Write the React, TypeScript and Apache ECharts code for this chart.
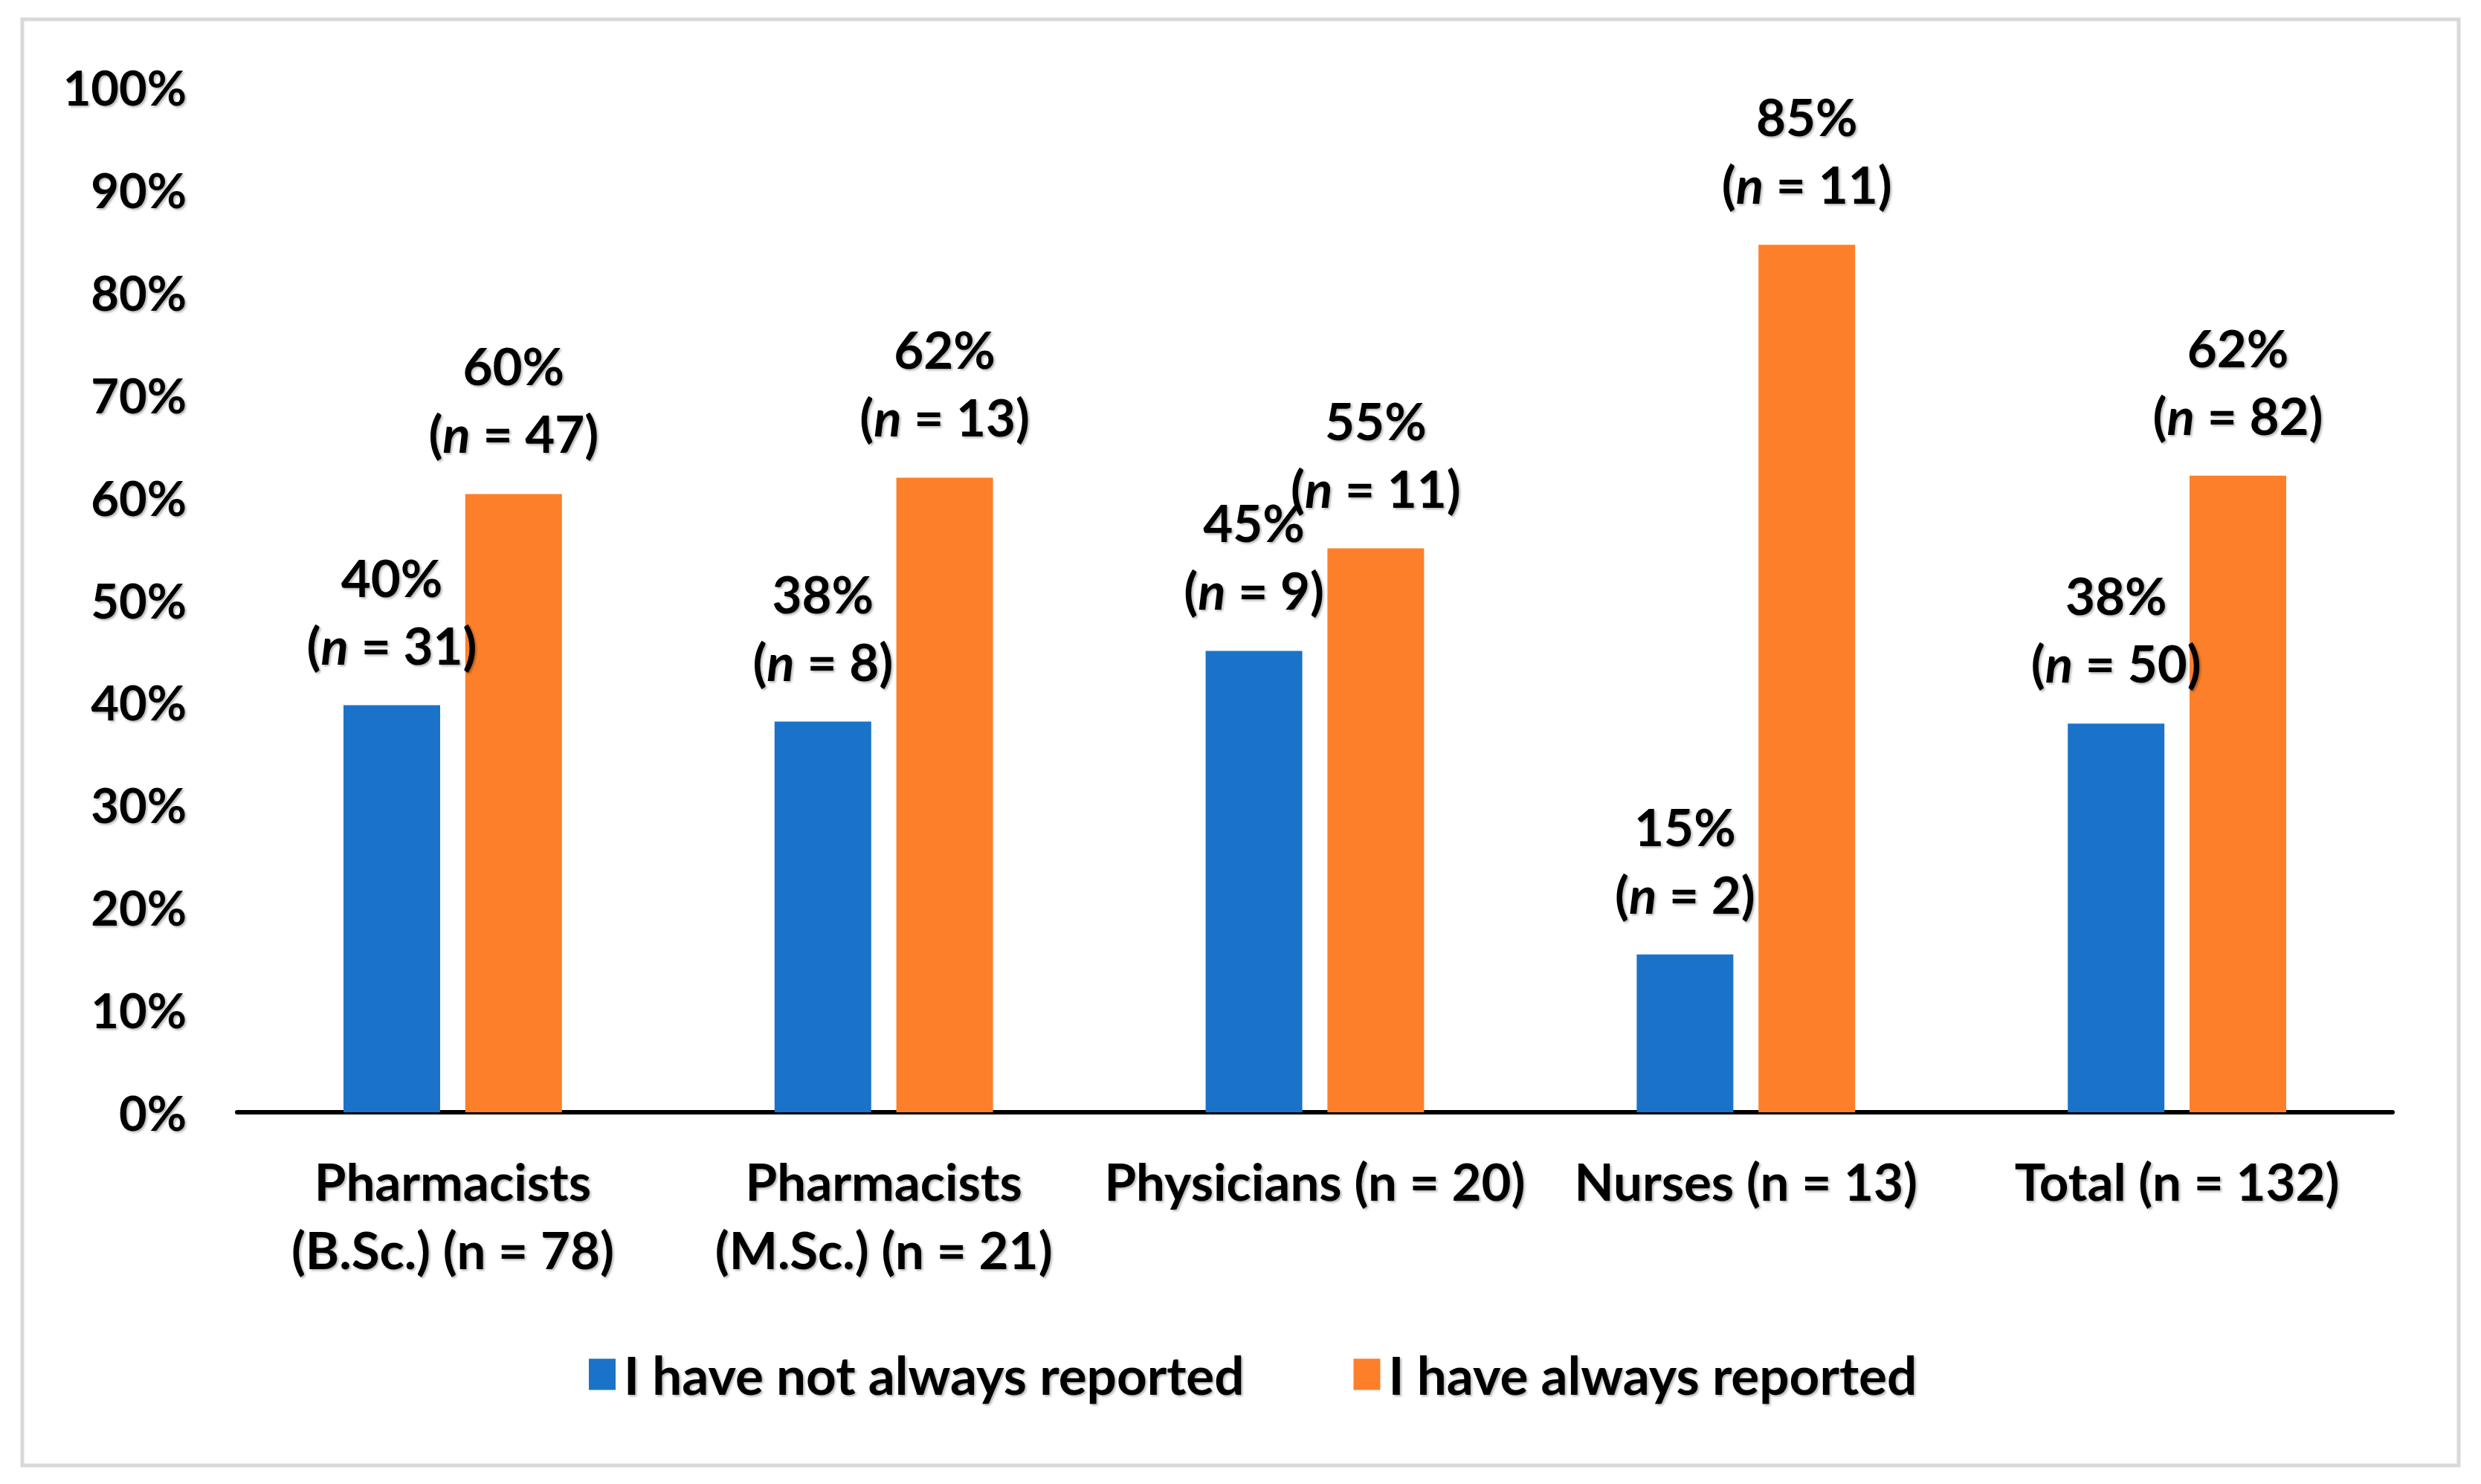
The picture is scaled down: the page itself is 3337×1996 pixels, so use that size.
import React, { useEffect, useRef } from "react";
import * as echarts from "echarts";

const categories = [
  "Pharmacists\n(B.Sc.) (n = 78)",
  "Pharmacists\n(M.Sc.) (n = 21)",
  "Physicians (n = 20)",
  "Nurses (n = 13)",
  "Total (n = 132)",
];
const seriesNames = ["I have not always reported", "I have always reported"];
const notAlwaysPct = [39.7, 38.1, 45, 15.4, 37.9];
const notAlwaysN = [31, 8, 9, 2, 50];
const alwaysPct = [60.3, 61.9, 55, 84.6, 62.1];
const alwaysN = [47, 13, 11, 11, 82];
const yMin = 0;
const yMax = 100;
const yInterval = 10;

const FONT = "Lato";
const FS_Y = 65;
const FS_BAR = 69;
const FS_CAT = 69;
const FS_LEG = 71;
const shadow = {
  textShadowColor: "rgba(0,0,0,0.3)",
  textShadowBlur: 3,
  textShadowOffsetX: 2,
  textShadowOffsetY: 2,
};

function makeLabel(nArr: number[]) {
  return {
    show: true,
    position: "top",
    distance: 36,
    formatter: (p: any) =>
      `{b|${Math.round(p.value)}%}\n{b|(}{i|n}{b| = ${nArr[p.dataIndex]})}`,
    rich: {
      b: { fontFamily: FONT, fontWeight: "bold", fontSize: FS_BAR, color: "#000", lineHeight: 91, ...shadow },
      i: { fontFamily: FONT, fontWeight: "bold", fontStyle: "italic", fontSize: FS_BAR, color: "#000", lineHeight: 91, ...shadow },
    },
  };
}

export default function App() {
  const ref = useRef<HTMLDivElement>(null);
  useEffect(() => {
    if (!ref.current) return;
    const chart = echarts.init(ref.current, undefined, { renderer: "svg" });
    chart.setOption({
      animation: false,
      backgroundColor: "#fff",
      graphic: [
        {
          type: "rect",
          shape: { x: 30, y: 26, width: 3277, height: 1945 },
          style: { fill: "none", stroke: "#d9d9d9", lineWidth: 5 },
          silent: true,
        },
      ],
      grid: { left: 319, right: 119, top: 117, bottom: 500 },
      legend: {
        left: 787,
        top: 1808,
        itemWidth: 36,
        itemHeight: 42,
        itemGap: 147,
        icon: "rect",
        textStyle: {
          fontFamily: FONT,
          fontWeight: "bold",
          fontSize: FS_LEG,
          color: "#000",
          padding: [0, 0, 0, 6],
          ...shadow,
        },
        data: seriesNames,
      },
      xAxis: {
        type: "category",
        data: categories,
        axisLine: { show: true, lineStyle: { color: "#000", width: 6 } },
        axisTick: { show: false },
        axisLabel: {
          margin: 46,
          interval: 0,
          fontFamily: FONT,
          fontWeight: "bold",
          fontSize: FS_CAT,
          color: "#000",
          lineHeight: 92,
          ...shadow,
        },
      },
      yAxis: {
        type: "value",
        min: yMin,
        max: yMax,
        interval: yInterval,
        axisLine: { show: false },
        axisTick: { show: false },
        splitLine: { show: false },
        axisLabel: {
          formatter: "{value}%",
          margin: 68,
          fontFamily: FONT,
          fontWeight: "bold",
          fontSize: FS_Y,
          color: "#000",
          ...shadow,
        },
      },
      series: [
        {
          name: seriesNames[0],
          type: "bar",
          data: notAlwaysPct,
          barWidth: 130,
          barGap: "26%",
          itemStyle: { color: "#1A73C8" },
          label: makeLabel(notAlwaysN),
        },
        {
          name: seriesNames[1],
          type: "bar",
          data: alwaysPct,
          barWidth: 130,
          barGap: "26%",
          itemStyle: { color: "#FE7F2A" },
          label: makeLabel(alwaysN),
        },
      ],
    });
    return () => chart.dispose();
  }, []);
  return (
    <div
      ref={ref}
      style={{ position: "absolute", left: 0, top: 0, width: 3337, height: 1996 }}
    />
  );
}
